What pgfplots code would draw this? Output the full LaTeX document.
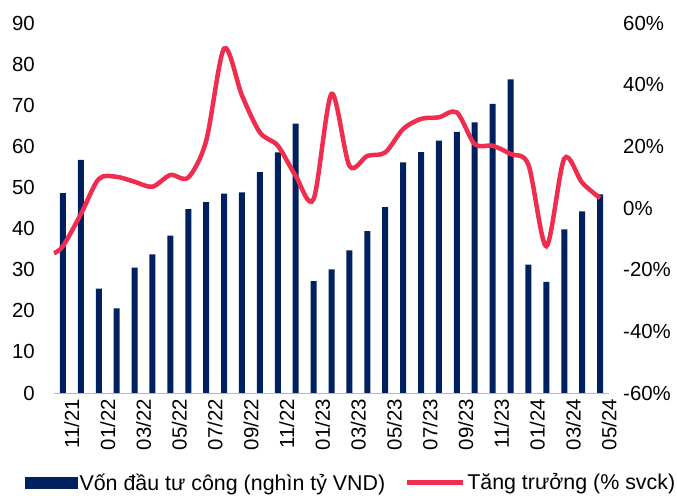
\documentclass[border=0pt]{standalone}
\usepackage{fontspec}
\setmainfont{Liberation Sans}
\usepackage{pgfplots}
\pgfplotsset{compat=1.18}
\definecolor{barblue}{HTML}{002060}
\definecolor{linered}{HTML}{EE2D4F}
\newcommand{\tfont}{\fontsize{20.4bp}{24bp}\selectfont}
\newcommand{\lfont}{\fontsize{21.4bp}{25bp}\selectfont}
\begin{document}
\begin{tikzpicture}[x=1bp,y=1bp]
\path[use as bounding box] (0,0) rectangle (677,496);
\begin{axis}[
  at={(54bp,103bp)}, anchor=south west,
  scale only axis, width=555bp, height=370bp,
  xmin=-0.5, xmax=30.5, ymin=0, ymax=90,
  axis lines*=left,
  y axis line style={draw=none},
  x axis line style={draw=gray!55, line width=0.8bp},
  ytick={0,10,...,90},
  yticklabels={0,10,20,30,40,50,60,70,80,90},
  ytick style={draw=none},
  xtick={0,2,...,30},
  xticklabels={11/21,01/22,03/22,05/22,07/22,09/22,11/22,01/23,03/23,05/23,07/23,09/23,11/23,01/24,03/24,05/24},
  xtick style={draw=none},
  extra x ticks={-0.5,1.5,...,29.5},
  extra x tick labels={},
  extra x tick style={tick style={draw=gray!55, line width=0.8bp}},
  tick align=outside,
  major tick length=6bp,
  yticklabel style={font=\tfont, anchor=east, inner sep=0pt, xshift=-13bp},
  xticklabel style={font=\tfont, rotate=90, anchor=east, inner sep=0pt, yshift=-9bp},
  clip=false,
]
\addplot[ybar, bar width=6bp, fill=barblue, draw=none] coordinates {
(0,48.6) (1,56.7) (2,25.4) (3,20.6) (4,30.5) (5,33.7) (6,38.3) (7,44.7) (8,46.4) (9,48.5)
(10,48.8) (11,53.7) (12,58.5) (13,65.5) (14,27.2) (15,30.1) (16,34.7) (17,39.4) (18,45.2) (19,56.1)
(20,58.6) (21,61.4) (22,63.5) (23,65.8) (24,70.3) (25,76.3) (26,31.2) (27,27.0) (28,39.8) (29,44.2) (30,48.3)
};
\end{axis}
\begin{axis}[
  at={(54bp,103bp)}, anchor=south west,
  scale only axis, width=555bp, height=370bp,
  xmin=-0.5, xmax=30.5, ymin=-60, ymax=60,
  axis y line*=right, axis x line=none,
  y axis line style={draw=none},
  ytick={-60,-40,...,60},
  yticklabels={-60\%,-40\%,-20\%,0\%,20\%,40\%,60\%},
  ytick style={draw=none},
  yticklabel style={font=\tfont, anchor=west, inner sep=0pt, xshift=14bp},
  legend columns=2,
  legend style={at={(-0.052,-0.242)}, anchor=west, draw=none, font=\lfont,
    inner sep=0pt, outer sep=0pt,
    /tikz/every even column/.append style={column sep=17bp}},
  legend cell align=left,
  clip=false,
]
\addlegendimage{legend image code/.code={\fill[barblue] (0bp,-5.5bp) rectangle (52bp,5.5bp);}}
\addlegendentry{Vốn đầu tư công (nghìn tỷ VND)}
\addplot[linered, line width=4.5bp, smooth, tension=0.5,
  legend image code/.code={\draw[linered, line width=5bp] (0bp,0bp) -- (56bp,0bp);}]
 coordinates {
(-0.5,-14.6) (0,-12.4) (1,-2) (2,9.4) (3,10.1) (4,8.5) (5,6.9) (6,10.7) (7,9.9) (8,21.8) (9,51.7)
(10,36.5) (11,24.5) (12,20.2) (13,10.4) (14,2.9) (15,37) (16,13.7) (17,16.9) (18,18) (19,25.6)
(20,28.9) (21,29.4) (22,31) (23,20.7) (24,20.2) (25,17.5) (26,14) (27,-12.4) (28,16) (29,8.2) (30,3.2)
};
\addlegendentry{Tăng trưởng (\% svck)}
\end{axis}
\end{tikzpicture}
\end{document}
